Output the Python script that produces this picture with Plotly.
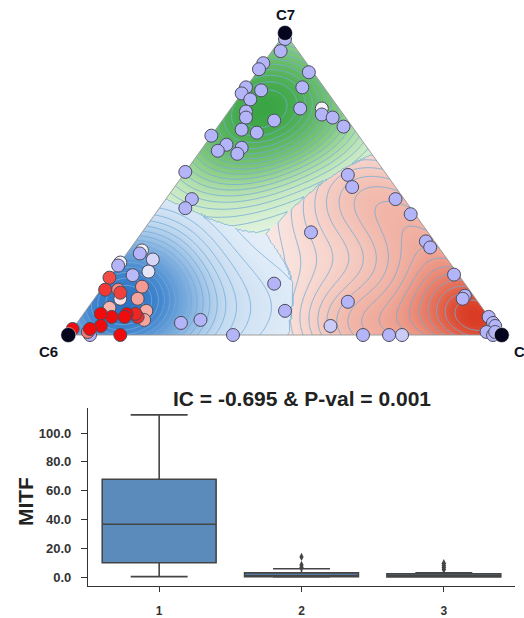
import numpy as np
import plotly.graph_objects as go

W, H = 524, 618
FONT = "Liberation Sans"

# ---------------- ternary samples: fractions of C6, C5, C7 ----------------
C6 = [0.01, 0.04, 0.10, 0.12, 0.01, 0.18, 0.20, 0.15, 0.19, 0.05,
      0.09, 0.22, 0.23, 0.17, 0.04, 0.05, 0.03, 0.02, 0.26, 0.23,
      0.32, 0.29, 0.31, 0.34, 0.35, 0.46, 0.49, 0.52,
      0.09, 0.10, 0.02, 0.01, 0.27, 0.02, 0.02, 0.01, 0.02, 0.03,
      0.30, 0.38, 0.32, 0.23, 0.26, 0.00, 0.00, 0.00, 0.03, 0.02, 0.01,
      0.44, 0.46, 0.72, 0.67, 0.62,
      0.69, 0.70, 0.68, 0.76, 0.77, 0.71, 0.76, 0.81, 0.75, 0.81,
      0.84, 0.82, 0.81, 0.78, 0.86, 0.78, 0.80, 0.81, 0.81, 0.83,
      0.84, 0.87, 0.89, 0.95, 0.95, 0.91, 0.94, 0.98, 0.88]
C5 = [0.01, 0.02, 0.00, 0.00, 0.12, 0.00, 0.00, 0.04, 0.03, 0.13,
      0.16, 0.04, 0.05, 0.12, 0.21, 0.22, 0.25, 0.29, 0.06, 0.10,
      0.05, 0.09, 0.09, 0.00, 0.04, 0.00, 0.06, 0.06,
      0.38, 0.41, 0.53, 0.59, 0.39, 0.67, 0.69, 0.79, 0.85, 0.85,
      0.59, 0.59, 0.68, 0.77, 0.74, 0.94, 0.96, 0.97, 0.96, 0.98, 0.98,
      0.39, 0.46, 0.24, 0.28, 0.38,
      0.03, 0.03, 0.07, 0.00, 0.00, 0.08, 0.05, 0.00, 0.09, 0.04,
      0.01, 0.06, 0.05, 0.10, 0.05, 0.14, 0.15, 0.13, 0.12, 0.10,
      0.10, 0.07, 0.04, 0.05, 0.04, 0.06, 0.04, 0.00, 0.12]
C7 = [0.98, 0.94, 0.90, 0.88, 0.87, 0.82, 0.80, 0.81, 0.78, 0.82,
      0.75, 0.74, 0.72, 0.71, 0.75, 0.73, 0.72, 0.69, 0.68, 0.67,
      0.63, 0.62, 0.60, 0.66, 0.61, 0.54, 0.45, 0.42,
      0.53, 0.49, 0.45, 0.40, 0.34, 0.31, 0.29, 0.20, 0.13, 0.12,
      0.11, 0.03, 0.00, 0.00, 0.00, 0.06, 0.04, 0.03, 0.01, 0.00, 0.01,
      0.17, 0.08, 0.04, 0.05, 0.00,
      0.28, 0.27, 0.25, 0.24, 0.23, 0.21, 0.20, 0.19, 0.16, 0.15,
      0.15, 0.12, 0.14, 0.12, 0.09, 0.08, 0.05, 0.06, 0.07, 0.07,
      0.06, 0.06, 0.07, 0.00, 0.01, 0.03, 0.02, 0.02, 0.00]
# cluster of each sample (used for the density landscape)
CLUSTER = (["C7"] * 27 + ["C6"] +
           ["C5"] * 21 +
           ["C6"] * 34)
# MITF colour score per sample (0 = low, 1 = high)
MITF_SCORE = [0, 0, 0, 0, 0, 0, 0, 0, 0, 0,
              0, 0, 0, 0, 0.45, 0, 0, 0, 0, 0,
              0, 0, 0, 0, 0, 0, 0, 0,
              0, 0, 0, 0, 0, 0, 0, 0, 0, 0,
              0, 0.2, 0, 0.2, 0, 0, 0, 0, 0, 0, 0,
              0, 0, 0, 0, 0,
              0.45, 0, 0.3, 0.45, 0, 0.38, 0.05, 0.85, 0.68, 0.72,
              0.9, 0.5, 0.88, 0.66, 0.62, 0.64, 0.66, 0.92, 0.94, 1.0,
              1.0, 1.0, 1.0, 0, 0.75, 1.0, 1.0, 1.0, 1.0]
VERTEX_LABELS = ["C6", "C5", "C7"]

# ---------------- MITF per cluster (box summaries) ----------------
BOX_GROUPS = ["1", "2", "3"]
BOX_LOW = [0.3, 0.0, 0.0]
BOX_Q1 = [9.9, 0.2, 0.1]
BOX_MED = [36.7, 1.0, 0.6]
BOX_Q3 = [67.9, 2.9, 2.2]
BOX_HIGH = [112.6, 5.8, 3.0]
OUTLIER_GROUP = ["2", "2", "2", "3", "3", "3", "3"]
OUTLIER_VALUE = [6.6, 8.4, 14.0, 5.2, 6.6, 8.0, 9.6]
Y_TICKS = [0, 20, 40, 60, 80, 100]

SQ = np.sqrt(3) / 2
PAD = 0.04                      # white margin around the simplex inside its axes
PX_X = 433.4                    # pixels per unit along the base
PX_Y = 305.0 / SQ               # pixels per unit of height


def to_xy(c6, c5, c7):
    c6, c5, c7 = (np.asarray(v, float) for v in (c6, c5, c7))
    s = c6 + c5 + c7
    return (c5 + 0.5 * c7) / s, SQ * c7 / s


px, py = to_xy(C6, C5, C7)
group = np.array([VERTEX_LABELS.index(c) for c in CLUSTER])

# ---------- per-cluster kernel density on a grid over the simplex ----------
nx, ny = 290, 205
gx = np.linspace(0, 1, nx)
gy = np.linspace(0, SQ, ny)
GX, GY = np.meshgrid(gx, gy)
b7 = GY / SQ
b5 = GX - b7 / 2
b6 = 1 - b5 - b7
inside = (b5 >= -0.008) & (b6 >= -0.008)

BW = [0.12, 0.11, 0.13]          # C6, C5, C7 kernel widths
WEIGHT = [1.0, 1.6, 1.0]         # cluster weights when picking the dominant cluster
dens = np.zeros((3, ny, nx))
for k in range(3):
    for xk, yk in zip(px[group == k], py[group == k]):
        dens[k] += np.exp(-((GX - xk) ** 2 + (GY - yk) ** 2) / (2 * BW[k] ** 2))
norm = np.array([d / d[inside].max() for d in dens])
region = (dens * np.array(WEIGHT)[:, None, None]).argmax(axis=0)
level = np.take_along_axis(norm, region[None], axis=0)[0]

SCALES = [
    [[0, "#eef4fb"], [0.3, "#c3daf0"], [0.55, "#84b2e0"], [0.8, "#4a8bd2"],
     [1, "#2c74c4"]],                                                          # C6 blue
    [[0, "#fcf3f1"], [0.3, "#f6d3cb"], [0.6, "#efaa9b"], [0.85, "#e46a52"],
     [1, "#d93a22"]],                                                          # C5 red
    [[0, "#eef8ec"], [0.3, "#c4e7bf"], [0.6, "#7fc77b"], [1, "#3aa544"]],      # C7 green
]

fig = go.Figure()
for k in range(3):
    z = np.where((region == k) & inside, norm[k], np.nan)
    fig.add_trace(go.Heatmap(x=gx, y=gy, z=z, colorscale=SCALES[k], zmin=0, zmax=1,
                             showscale=False, hoverinfo="skip", zsmooth=False))
fig.add_trace(go.Contour(x=gx, y=gy, z=level, showscale=False, hoverinfo="skip",
                         contours=dict(coloring="none", start=0.05, end=0.95, size=0.05),
                         line=dict(color="rgba(115,172,215,0.9)", width=0.9)))

# blank out everything outside the simplex
vx, vy = to_xy([1, 0, 0], [0, 1, 0], [0, 0, 1])
for side, out in ((0, -0.3), (1, 1.3)):
    ax0, ay0 = vx[side] + 0.2 * (vx[side] - vx[2]), vy[side] + 0.2 * (vy[side] - vy[2])
    ax1, ay1 = vx[2] + 0.2 * (vx[2] - vx[side]), vy[2] + 0.2 * (vy[2] - vy[side])
    fig.add_trace(go.Scatter(x=[ax0, ax1, out, out, ax0], y=[ay0, ay1, ay1, ay0, ay0],
                             fill="toself", fillcolor="white", mode="none",
                             hoverinfo="skip", showlegend=False))
fig.add_trace(go.Scatter(x=[-0.3, 1.3, 1.3, -0.3, -0.3], y=[vy[0], vy[1], -0.3, -0.3, vy[0]],
                         fill="toself", fillcolor="white", mode="none",
                         hoverinfo="skip", showlegend=False))
fig.add_trace(go.Scatter(x=list(vx) + [vx[0]], y=list(vy) + [vy[0]], mode="lines",
                         line=dict(color="rgba(150,150,150,0.9)", width=1),
                         hoverinfo="skip", showlegend=False))

fig.add_trace(go.Scatter(
    x=px, y=py, mode="markers", cliponaxis=False, showlegend=False,
    marker=dict(size=13, color=MITF_SCORE, cmin=0, cmax=1,
                colorscale=[[0, "#b4b4f8"], [0.3, "#d6d6f8"], [0.45, "#f4f2f8"],
                            [0.62, "#f6b6b0"], [0.8, "#f0625a"], [1, "#f00c0c"]],
                line=dict(color="#4c4c5c", width=1))))
fig.add_trace(go.Scatter(x=vx, y=vy, mode="markers", cliponaxis=False, showlegend=False,
                         marker=dict(size=15, color="#05051e",
                                     line=dict(color="#ffffff", width=0.5))))

for i, (lab, dx, dy, anchor) in enumerate(zip(VERTEX_LABELS, [-20, 10, 0], [-16, -16, 18],
                                              ["center", "left", "center"])):
    fig.add_annotation(x=vx[i], y=vy[i], xref="x", yref="y", text=f"<b>{lab}</b>",
                       showarrow=False, xshift=dx, yshift=dy, xanchor=anchor,
                       yanchor="middle", font=dict(family=FONT, size=15, color="#111122"))

# ---------------- box plot ----------------
fig.add_trace(go.Box(x=BOX_GROUPS, q1=BOX_Q1, median=BOX_MED, q3=BOX_Q3,
                     lowerfence=BOX_LOW, upperfence=BOX_HIGH, boxpoints=False,
                     fillcolor="#5b8bba", line=dict(color="#454545", width=1.6),
                     width=0.8, whiskerwidth=0.5, xaxis="x2", yaxis="y2",
                     showlegend=False, hoverinfo="skip"))
fig.add_trace(go.Scatter(x=OUTLIER_GROUP, y=OUTLIER_VALUE, mode="markers",
                         marker=dict(symbol="diamond-tall", size=6, color="#454545"),
                         xaxis="x2", yaxis="y2", showlegend=False, hoverinfo="skip"))

fig.add_annotation(x=301.5 / W, y=1 - 402.7 / H, xref="paper", yref="paper",
                   xanchor="center", yanchor="middle",
                   text="<b>IC = -0.695 & P-val = 0.001</b>", showarrow=False,
                   font=dict(family=FONT, size=21, color="#222222"))
fig.add_annotation(x=25 / W, y=1 - 507 / H, xref="paper", yref="paper", text="<b>MITF</b>",
                   xanchor="center", yanchor="middle", textangle=-90, showarrow=False,
                   font=dict(family=FONT, size=21, color="#222222"))

left, bottom = 68.3, 338.3
axis_font = dict(family=FONT, size=13, color="#333333", weight="bold")
fig.update_layout(
    width=W, height=H, margin=dict(l=0, r=0, t=0, b=0),
    paper_bgcolor="white", plot_bgcolor="white", showlegend=False,
    xaxis=dict(domain=[(left - PAD * PX_X) / W, (left + (1 + PAD) * PX_X) / W],
               range=[-PAD, 1 + PAD], visible=False),
    yaxis=dict(domain=[1 - (bottom + PAD * PX_Y) / H, 1 - (bottom - (SQ + PAD) * PX_Y) / H],
               range=[-PAD, SQ + PAD], visible=False),
    xaxis2=dict(domain=[88 / W, 515 / W], anchor="y2", type="category",
                categoryorder="array", categoryarray=BOX_GROUPS, range=[-0.5, 2.5],
                showline=True, linecolor="#333333", linewidth=1.3, ticks="outside",
                ticklen=5, tickcolor="#333333", showgrid=False, zeroline=False,
                tickfont=dict(family=FONT, size=12, color="#333333", weight="bold"),
                ticklabelstandoff=8),
    yaxis2=dict(domain=[1 - 592 / H, 1 - 412 / H], anchor="x2", range=[-6.4, 117.4],
                showline=True, linecolor="#333333", linewidth=1.3, ticks="outside",
                ticklen=6, tickcolor="#333333", showgrid=False, zeroline=False,
                tickvals=Y_TICKS, ticktext=[f"{v:.1f}" for v in Y_TICKS],
                tickfont=axis_font, ticklabelstandoff=7),
)

fig.write_html("out.html")
